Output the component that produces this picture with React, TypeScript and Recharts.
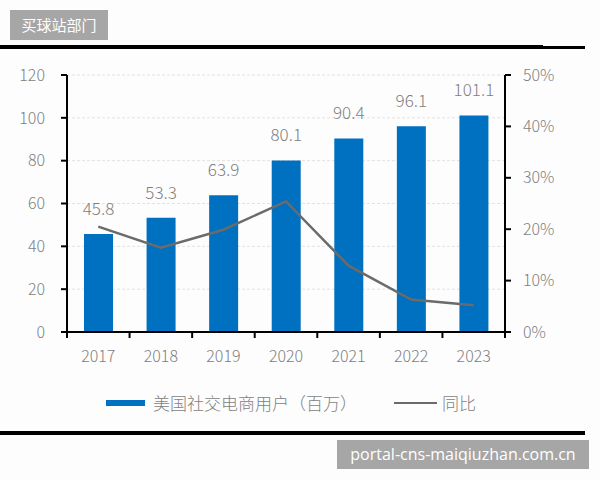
import React from "react";
import {
  Bar,
  CartesianGrid,
  ComposedChart,
  LabelList,
  Legend,
  Line,
  XAxis,
  YAxis,
} from "recharts";

const years = ["2017", "2018", "2019", "2020", "2021", "2022", "2023"];
const users = [45.8, 53.3, 63.9, 80.1, 90.4, 96.1, 101.1];
const growth = [20.5, 16.4, 19.9, 25.4, 12.9, 6.3, 5.2];
const leftTicks = [0, 20, 40, 60, 80, 100, 120];
const rightTicks = [0, 10, 20, 30, 40, 50];

const data = years.map((year, i) => ({
  year,
  users: users[i],
  growth: growth[i],
}));

const FONT = '"Noto Sans CJK SC", "Noto Sans", sans-serif';
const GRAY = "#7f7f7f";
const BLUE = "#0070c0";
const LINE = "#6b6b6b";
const PLOT_W = 438;
const BAND = PLOT_W / years.length;

const YearTick = (props: any) => {
  const { x, y, payload, index } = props;
  const half = BAND / 2;
  return (
    <g>
      <line x1={x - half} x2={x - half} y1={y} y2={y + 6} stroke="#000" strokeWidth={2} />
      {index === years.length - 1 && (
        <line x1={x + half} x2={x + half} y1={y} y2={y + 6} stroke="#000" strokeWidth={2} />
      )}
      <text
        x={x}
        y={y}
        dy={23}
        textAnchor="middle"
        dominantBaseline="central"
        fill={GRAY}
        fontSize={16}
        fontWeight={300}
      >
        {payload.value}
      </text>
    </g>
  );
};

const ValueLabel = (props: any) => {
  const { x, y, width, value } = props;
  return (
    <text
      x={x + width / 2}
      y={y - 19}
      textAnchor="middle"
      fill={GRAY}
      fontSize={17}
      fontWeight={300}
    >
      {value}
    </text>
  );
};

// bar entry first, line entry second
const LegendContent = (props: any) => {
  const payload = [...(props.payload || [])].sort(
    (a: any, b: any) => (a.type === "line" ? 1 : 0) - (b.type === "line" ? 1 : 0)
  );
  return (
    <div
      style={{
        display: "flex",
        alignItems: "center",
        paddingLeft: 106,
        fontSize: 17,
        fontWeight: 300,
        color: GRAY,
        fontFamily: FONT,
      }}
    >
      {payload.map((entry: any, i: number) => (
        <div
          key={entry.value}
          style={{ display: "flex", alignItems: "center", marginRight: i === 0 ? 37 : 0 }}
        >
          {entry.type === "line" ? (
            <div style={{ width: 43, height: 2, background: LINE, marginRight: 5 }} />
          ) : (
            <div style={{ width: 39, height: 6, background: BLUE, marginRight: 8 }} />
          )}
          <span>{entry.value}</span>
        </div>
      ))}
    </div>
  );
};

export default function App() {
  return (
    <div
      style={{
        position: "absolute",
        left: 0,
        top: 0,
        width: 600,
        height: 480,
        background: "#fdfdfe",
        fontFamily: FONT,
        overflow: "hidden",
      }}
    >
      <div
        style={{
          position: "absolute",
          left: 10,
          top: 10,
          width: 98,
          height: 30,
          background: "#a6a6a6",
          color: "#fff",
          fontSize: 15,
          lineHeight: "30px",
          textAlign: "center",
        }}
      >
        买球站部门
      </div>
      <div style={{ position: "absolute", left: 0, top: 45, width: 543, height: 4, background: "#000" }} />
      <div style={{ position: "absolute", left: 543, top: 46, width: 42, height: 2.5, background: "#000" }} />

      <ComposedChart
        width={600}
        height={480}
        data={data}
        margin={{ top: 75, right: 35, left: 12, bottom: 118 }}
      >
        <CartesianGrid
          yAxisId="left"
          vertical={false}
          stroke="#e2e2e2"
          strokeDasharray="3 2"
        />
        <XAxis
          dataKey="year"
          height={30}
          tickLine={false}
          tickSize={0}
          tickMargin={0}
          axisLine={{ stroke: "#000", strokeWidth: 2 }}
          tick={<YearTick />}
          interval={0}
        />
        <YAxis
          yAxisId="left"
          width={55}
          domain={[0, 120]}
          ticks={leftTicks}
          interval={0}
          tickSize={6}
          tickMargin={16}
          axisLine={{ stroke: "#000", strokeWidth: 2 }}
          tickLine={{ stroke: "#000", strokeWidth: 2 }}
          tick={{ fill: GRAY, fontSize: 16, fontWeight: 300 }}
        />
        <YAxis
          yAxisId="right"
          orientation="right"
          width={60}
          domain={[0, 50]}
          ticks={rightTicks}
          interval={0}
          tickSize={6}
          tickMargin={12}
          tickFormatter={(v: number) => `${v}%`}
          axisLine={{ stroke: "#000", strokeWidth: 2 }}
          tickLine={{ stroke: "#000", strokeWidth: 2 }}
          tick={{ fill: GRAY, fontSize: 16, fontWeight: 300, textAnchor: "start" }}
        />
        <Bar
          yAxisId="left"
          dataKey="users"
          name="美国社交电商用户（百万）"
          fill={BLUE}
          barSize={29}
          isAnimationActive={false}
        >
          <LabelList dataKey="users" content={<ValueLabel />} />
        </Bar>
        <Line
          yAxisId="right"
          dataKey="growth"
          name="同比"
          type="linear"
          stroke={LINE}
          strokeWidth={2.5}
          dot={false}
          legendType="line"
          isAnimationActive={false}
        />
        <Legend
          layout="horizontal"
          verticalAlign="middle"
          align="center"
          content={<LegendContent />}
          wrapperStyle={{ top: 390, left: 0, width: 600, height: 24 }}
        />
      </ComposedChart>

      <div style={{ position: "absolute", left: 0, top: 431, width: 585, height: 4, background: "#000" }} />
      <div
        style={{
          position: "absolute",
          left: 337,
          top: 440,
          width: 252,
          height: 29,
          background: "#a6a6a6",
          color: "#fff",
          fontSize: 16,
          lineHeight: "29px",
          textAlign: "center",
          fontFamily: '"Open Sans", sans-serif',
        }}
      >
        portal-cns-maiqiuzhan.com.cn
      </div>
    </div>
  );
}
